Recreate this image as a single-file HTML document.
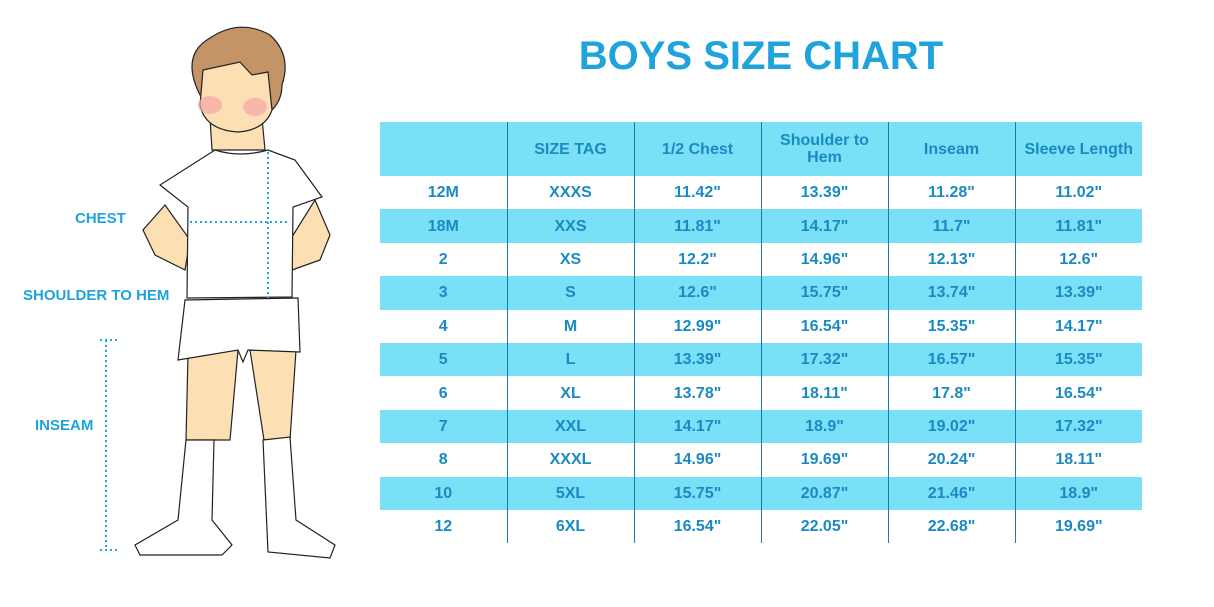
<!DOCTYPE html>
<html><head><meta charset="utf-8"><style>
body{margin:0;width:1214px;height:607px;background:#fff;position:relative;overflow:hidden;font-family:"Liberation Sans",sans-serif}
.t{position:absolute;left:380px;top:54px;width:762px;text-align:center;font-size:40px;font-weight:bold;color:#1ea3dd;line-height:1;margin-top:-18px}
table{position:absolute;left:380px;top:122px;border-collapse:collapse;width:762px;table-layout:fixed}
td{height:33.4px;padding:0;text-align:center;font-size:16px;font-weight:bold;color:#1a8ac0;border-left:1.5px solid #1a7aaa;line-height:17px}
td:first-child{border-left:none}
tr.h td{height:54px}
tr.b td{background:#7ae0f8}
.l{position:absolute;font-size:15px;font-weight:bold;color:#1ea3dd}
</style></head><body>
<div class="t">BOYS SIZE CHART</div>
<svg style="position:absolute;left:0;top:0" width="360" height="607">
<g stroke="#222" stroke-width="1.2">
<path d="M188,355 L238,350 L230,440 L186,440 Z" fill="#fce0b4"/>
<path d="M250,350 L296,350 L290,440 L264,440 Z" fill="#fce0b4"/>
<path d="M186,440 L214,440 L212,520 L232,545 L222,555 L140,555 L135,545 L178,520 Z" fill="#fff"/>
<path d="M263,440 L290,437 L296,520 L335,545 L330,558 L268,552 Z" fill="#fff"/>
<path d="M185,300 L298,298 L300,352 L248,350 L243,362 L238,350 L178,360 Z" fill="#fff"/>
<path d="M165,205 L143,230 L155,255 L185,270 L190,240 Z" fill="#fce0b4"/>
<path d="M315,200 L330,235 L320,260 L292,270 L290,240 Z" fill="#fce0b4"/>
<path d="M210,118 L212,150 L265,150 L262,118 Z" fill="#fce0b4"/>
<path d="M215,150 Q240,158 268,150 L295,160 L322,197 L293,207 L292,297 L187,298 L188,207 L160,185 Z" fill="#fff"/>
<path d="M200,95 Q180,55 210,38 Q240,18 270,35 Q292,55 282,85 Q282,100 272,110 L262,82 L240,70 Z" fill="#c49366"/>
<path d="M203,70 L240,62 L252,75 L268,72 L272,110 Q265,130 238,132 Q205,130 200,105 Z" fill="#fce0b4"/>
</g>
<ellipse cx="210" cy="105" rx="12" ry="9" fill="#f5a6a6" opacity=".7"/>
<ellipse cx="255" cy="107" rx="12" ry="9" fill="#f5a6a6" opacity=".7"/>
<g stroke="#1ea3dd" stroke-width="2" stroke-dasharray="2 3" fill="none">
<path d="M190,222 L290,222"/><path d="M268,152 L268,298"/>
<path d="M106,340 L106,550"/><path d="M100,340 L118,340"/><path d="M100,550 L118,550"/>
</g></svg>
<div class="l" style="left:75px;top:210px">CHEST</div>
<div class="l" style="left:23px;top:287px">SHOULDER TO HEM</div>
<div class="l" style="left:35px;top:417px">INSEAM</div>
<table>
<tr class="h b"><td></td><td>SIZE TAG</td><td>1/2 Chest</td><td>Shoulder to<br>Hem</td><td>Inseam</td><td>Sleeve Length</td></tr>
<tr><td>12M</td><td>XXXS</td><td>11.42"</td><td>13.39"</td><td>11.28"</td><td>11.02"</td></tr>
<tr class="b"><td>18M</td><td>XXS</td><td>11.81"</td><td>14.17"</td><td>11.7"</td><td>11.81"</td></tr>
<tr><td>2</td><td>XS</td><td>12.2"</td><td>14.96"</td><td>12.13"</td><td>12.6"</td></tr>
<tr class="b"><td>3</td><td>S</td><td>12.6"</td><td>15.75"</td><td>13.74"</td><td>13.39"</td></tr>
<tr><td>4</td><td>M</td><td>12.99"</td><td>16.54"</td><td>15.35"</td><td>14.17"</td></tr>
<tr class="b"><td>5</td><td>L</td><td>13.39"</td><td>17.32"</td><td>16.57"</td><td>15.35"</td></tr>
<tr><td>6</td><td>XL</td><td>13.78"</td><td>18.11"</td><td>17.8"</td><td>16.54"</td></tr>
<tr class="b"><td>7</td><td>XXL</td><td>14.17"</td><td>18.9"</td><td>19.02"</td><td>17.32"</td></tr>
<tr><td>8</td><td>XXXL</td><td>14.96"</td><td>19.69"</td><td>20.24"</td><td>18.11"</td></tr>
<tr class="b"><td>10</td><td>5XL</td><td>15.75"</td><td>20.87"</td><td>21.46"</td><td>18.9"</td></tr>
<tr><td>12</td><td>6XL</td><td>16.54"</td><td>22.05"</td><td>22.68"</td><td>19.69"</td></tr>
</table>
</body></html>
